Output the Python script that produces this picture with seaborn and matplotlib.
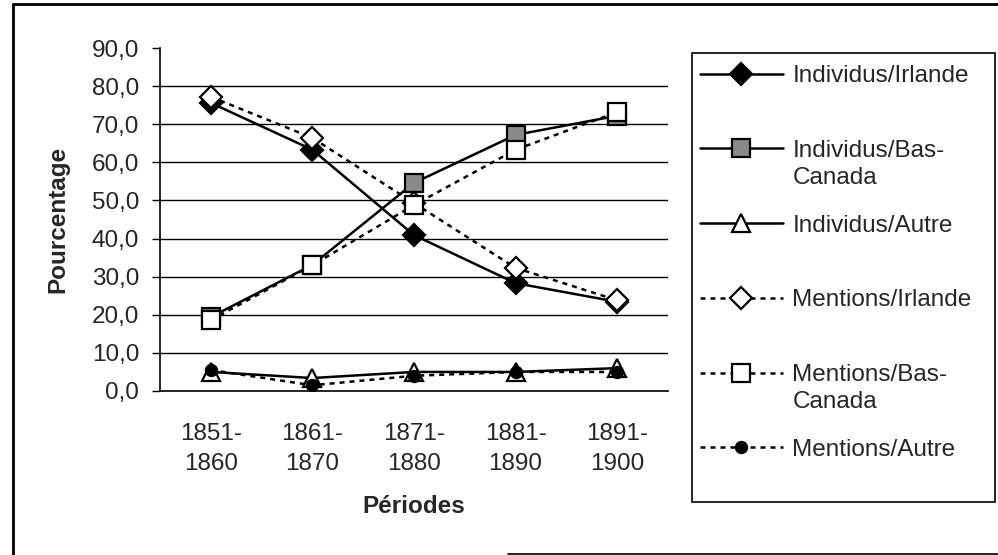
import matplotlib
matplotlib.use("Agg")
import matplotlib.pyplot as plt
from matplotlib.lines import Line2D
import seaborn as sns
import pandas as pd
import numpy as np

periodes = ["1851-\n1860", "1861-\n1870", "1871-\n1880", "1881-\n1890", "1891-\n1900"]
indiv_irlande = [75.6, 63.3, 40.9, 28.3, 23.4]
indiv_bascanada = [19.4, 33.1, 54.6, 67.2, 72.2]
indiv_autre = [5.0, 3.4, 5.0, 5.0, 6.0]
ment_irlande = [77.2, 66.4, 49.3, 32.3, 23.8]
ment_bascanada = [18.6, 33.0, 48.8, 63.3, 73.2]
ment_autre = [5.5, 1.5, 4.0, 5.0, 5.0]

dash = (0, (2, 2))
series = [
    ("Individus/Irlande", indiv_irlande, "-", "D", "black", 11),
    ("Individus/Bas-", indiv_bascanada, "-", "s", "#8a8a8a", 13),
    ("Individus/Autre", indiv_autre, "-", "^", "white", 13),
    ("Mentions/Irlande", ment_irlande, dash, "D", "white", 11),
    ("Mentions/Bas-", ment_bascanada, dash, "s", "white", 13),
    ("Mentions/Autre", ment_autre, dash, "o", "black", 8),
]

sns.set_style("white")
plt.rcParams['font.family'] = ['Liberation Sans', 'DejaVu Sans']
FS = 17.5
W, H = 998, 555

fig = plt.figure(figsize=(9.98, 5.55), dpi=100)
ax = fig.add_axes([160 / W, 1 - 391 / H, 508 / W, 343 / H])

x = np.arange(len(periodes))
handles = []
for name, vals, ls, mk, fc, ms in series:
    df = pd.DataFrame({"x": x, "y": vals})
    sns.lineplot(data=df, x="x", y="y", ax=ax, color="black", linestyle=ls,
                 linewidth=1.8, marker=mk, markersize=ms, markerfacecolor=fc,
                 markeredgecolor="black", markeredgewidth=1.6, zorder=3)
    handles.append(ax.lines[-1])

ax.set_xlim(-0.5, 4.5)
ax.set_ylim(0, 90)
ax.set_yticks(np.arange(0, 91, 10))
ax.set_yticklabels([f"{v:.1f}".replace(".", ",") for v in np.arange(0, 91, 10)], fontsize=FS)
ax.set_xticks(x)
ax.set_xticklabels(periodes, fontsize=FS, linespacing=1.45)
ax.set_xticks(np.arange(-0.5, 4.6, 1), minor=True)
ax.tick_params(axis="x", which="major", length=0, pad=23)
ax.tick_params(axis="x", which="minor", length=5, direction="out", width=1, color="black")
ax.tick_params(axis="y", length=6, direction="out", width=1, color="black", left=True, pad=9)
for v in range(10, 90, 10):
    ax.axhline(v, color="black", linewidth=1, zorder=1)
for s in ["top", "right"]:
    ax.spines[s].set_visible(False)
for s in ["left", "bottom"]:
    ax.spines[s].set_color("black")
    ax.spines[s].set_linewidth(1.2)

ax.set_xlabel("Périodes", fontsize=FS, fontweight="bold", labelpad=15)
ax.set_ylabel("Pourcentage", fontsize=FS, fontweight="bold", labelpad=16)

# legend box
fig.patches.append(plt.Rectangle((692 / W, 1 - 502 / H), 303 / W, 449 / H,
                                 transform=fig.transFigure, fill=False,
                                 edgecolor="black", linewidth=1.2))
leg = fig.legend(handles, [s[0] for s in series], loc="upper left",
                 bbox_to_anchor=(700 / W, 1 - 65 / H), frameon=False,
                 fontsize=FS, handlelength=3.4, labelspacing=2.17,
                 borderpad=0, handletextpad=0.4, borderaxespad=0)

# second line of the two-line legend labels
fig.canvas.draw()
renderer = fig.canvas.get_renderer()
for t in leg.get_texts():
    if t.get_text().endswith("Bas-"):
        bb = t.get_window_extent(renderer)
        fig.text(bb.x0 / W, (bb.y0 - 27) / H, "Canada", fontsize=FS,
                 ha="left", va="bottom")

# outer frame
fig.add_artist(Line2D([13 / W, 1], [1 - 4 / H, 1 - 4 / H], transform=fig.transFigure, color="black", linewidth=2))
fig.add_artist(Line2D([13 / W, 13 / W], [0, 1 - 4 / H], transform=fig.transFigure, color="black", linewidth=2))
fig.add_artist(Line2D([508 / W, 1], [1 / H, 1 / H], transform=fig.transFigure, color="black", linewidth=1.2))

fig.savefig("out.png", dpi=100)
